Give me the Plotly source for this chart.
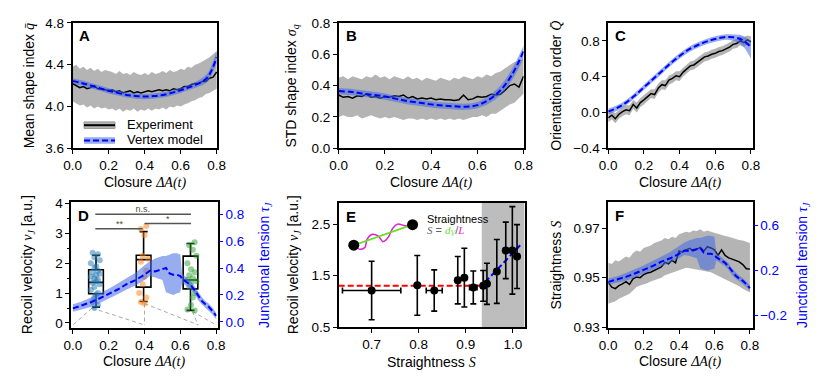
import plotly.graph_objects as go

W, H = 831, 385

# ---------------- data ----------------
closure = [0.00, 0.02, 0.04, 0.06, 0.08, 0.10, 0.12, 0.14, 0.16, 0.18, 0.20, 0.22, 0.24, 0.26,
           0.28, 0.30, 0.32, 0.34, 0.36, 0.38, 0.40, 0.42, 0.44, 0.46, 0.48, 0.50, 0.52, 0.54,
           0.56, 0.58, 0.60, 0.62, 0.64, 0.66, 0.68, 0.70, 0.72, 0.74, 0.76, 0.78, 0.80]
closure_model = [0.00, 0.05, 0.10, 0.15, 0.20, 0.25, 0.30, 0.35, 0.40, 0.45, 0.50, 0.55, 0.60,
                 0.65, 0.70, 0.75, 0.80]

# A: mean shape index
q_exp = [4.22, 4.20, 4.18, 4.19, 4.17, 4.18, 4.20, 4.17, 4.17, 4.16, 4.15, 4.16, 4.14, 4.15,
         4.13, 4.14, 4.15, 4.13, 4.14, 4.13, 4.14, 4.15, 4.14, 4.15, 4.16, 4.15, 4.16, 4.15,
         4.17, 4.16, 4.17, 4.19, 4.19, 4.21, 4.22, 4.22, 4.24, 4.24, 4.27, 4.28, 4.33]
q_exp_hi = [4.38, 4.40, 4.36, 4.38, 4.35, 4.37, 4.34, 4.36, 4.33, 4.35, 4.34, 4.33, 4.31, 4.34,
            4.31, 4.32, 4.30, 4.33, 4.31, 4.30, 4.32, 4.30, 4.33, 4.31, 4.32, 4.34, 4.32, 4.35,
            4.33, 4.34, 4.36, 4.35, 4.38, 4.37, 4.40, 4.41, 4.43, 4.45, 4.47, 4.50, 4.53]
q_exp_lo = [4.05, 4.03, 4.01, 4.02, 3.99, 4.01, 3.98, 4.00, 3.98, 3.99, 3.97, 3.98, 3.96, 3.98,
            3.95, 3.97, 3.96, 3.98, 3.95, 3.97, 3.96, 3.98, 3.96, 3.98, 3.97, 3.99, 3.97, 4.00,
            3.99, 4.01, 4.00, 4.02, 4.03, 4.05, 4.06, 4.08, 4.09, 4.12, 4.13, 4.15, 4.17]
q_mod = [4.245, 4.225, 4.20, 4.175, 4.15, 4.13, 4.11, 4.10, 4.095, 4.10, 4.11, 4.13, 4.155,
         4.185, 4.22, 4.28, 4.47]
q_mod_lo = [4.22, 4.20, 4.175, 4.15, 4.125, 4.105, 4.085, 4.075, 4.07, 4.075, 4.085, 4.105,
            4.13, 4.16, 4.19, 4.24, 4.41]
q_mod_hi = [4.27, 4.25, 4.225, 4.20, 4.175, 4.155, 4.135, 4.125, 4.12, 4.125, 4.135, 4.155,
            4.18, 4.21, 4.25, 4.32, 4.53]

# B: STD shape index
s_exp = [0.34, 0.325, 0.33, 0.32, 0.335, 0.33, 0.345, 0.325, 0.33, 0.32, 0.33, 0.325, 0.335,
         0.33, 0.34, 0.32, 0.33, 0.315, 0.32, 0.315, 0.32, 0.31, 0.315, 0.31, 0.31, 0.305, 0.31,
         0.34, 0.31, 0.315, 0.33, 0.325, 0.33, 0.345, 0.34, 0.345, 0.37, 0.40, 0.41, 0.39, 0.46]
s_exp_hi = [0.45, 0.46, 0.44, 0.46, 0.45, 0.44, 0.46, 0.45, 0.47, 0.45, 0.46, 0.44, 0.46, 0.45,
            0.44, 0.46, 0.44, 0.45, 0.43, 0.45, 0.44, 0.43, 0.45, 0.44, 0.43, 0.45, 0.44, 0.46,
            0.45, 0.44, 0.46, 0.45, 0.47, 0.46, 0.48, 0.49, 0.51, 0.53, 0.55, 0.56, 0.57]
s_exp_lo = [0.20, 0.21, 0.20, 0.20, 0.21, 0.19, 0.20, 0.21, 0.20, 0.19, 0.20, 0.19, 0.20, 0.19,
            0.18, 0.19, 0.19, 0.18, 0.19, 0.18, 0.19, 0.18, 0.19, 0.18, 0.19, 0.18, 0.19, 0.18,
            0.19, 0.20, 0.20, 0.21, 0.20, 0.22, 0.22, 0.24, 0.26, 0.28, 0.29, 0.32, 0.35]
s_mod = [0.365, 0.36, 0.35, 0.34, 0.33, 0.315, 0.30, 0.29, 0.28, 0.272, 0.268, 0.265, 0.275,
         0.31, 0.37, 0.47, 0.62]
s_mod_lo = [0.345, 0.34, 0.33, 0.32, 0.31, 0.295, 0.28, 0.27, 0.26, 0.252, 0.248, 0.245, 0.255,
            0.285, 0.34, 0.435, 0.575]
s_mod_hi = [0.385, 0.38, 0.37, 0.36, 0.35, 0.335, 0.32, 0.31, 0.30, 0.292, 0.288, 0.285, 0.295,
            0.335, 0.40, 0.505, 0.655]

# C: orientational order
o_exp = [-0.06, -0.03, -0.07, -0.02, 0.01, 0.03, 0.02, 0.09, 0.05, 0.11, 0.14, 0.18, 0.21, 0.20,
         0.27, 0.31, 0.30, 0.36, 0.38, 0.41, 0.40, 0.45, 0.48, 0.52, 0.53, 0.56, 0.59, 0.62,
         0.63, 0.65, 0.66, 0.68, 0.69, 0.71, 0.73, 0.76, 0.77, 0.80, 0.78, 0.81, 0.79]
o_exp_hi = [-0.01, 0.02, -0.01, 0.03, 0.06, 0.08, 0.08, 0.14, 0.11, 0.16, 0.19, 0.23, 0.26,
            0.26, 0.32, 0.36, 0.36, 0.41, 0.43, 0.46, 0.46, 0.50, 0.53, 0.57, 0.58, 0.61, 0.64,
            0.67, 0.68, 0.70, 0.71, 0.73, 0.74, 0.76, 0.78, 0.81, 0.82, 0.85, 0.84, 0.86, 0.85]
o_exp_lo = [-0.11, -0.08, -0.12, -0.07, -0.04, -0.02, -0.03, 0.04, 0.00, 0.06, 0.09, 0.13, 0.16,
            0.15, 0.22, 0.26, 0.25, 0.31, 0.33, 0.36, 0.35, 0.40, 0.43, 0.47, 0.48, 0.51, 0.54,
            0.57, 0.58, 0.60, 0.61, 0.63, 0.64, 0.66, 0.68, 0.71, 0.72, 0.75, 0.73, 0.76, 0.74]
o_mod = [0.01, 0.05, 0.11, 0.19, 0.28, 0.37, 0.46, 0.55, 0.63, 0.70, 0.75, 0.79, 0.82, 0.84,
         0.84, 0.81, 0.73]
o_mod_lo = [-0.02, 0.02, 0.08, 0.16, 0.25, 0.34, 0.43, 0.52, 0.60, 0.67, 0.72, 0.76, 0.79, 0.81,
            0.80, 0.75, 0.60]
o_mod_hi = [0.04, 0.08, 0.14, 0.22, 0.31, 0.40, 0.49, 0.58, 0.66, 0.73, 0.78, 0.82, 0.85, 0.87,
            0.87, 0.86, 0.80]

# junctional tension (model), shared by D and F
tension_x = [0.00, 0.05, 0.10, 0.15, 0.20, 0.25, 0.30, 0.35, 0.40, 0.43, 0.46, 0.50, 0.52, 0.54,
             0.56, 0.58, 0.60, 0.61, 0.64, 0.66, 0.68, 0.70, 0.72, 0.74, 0.76, 0.78, 0.80]
tension = [0.10, 0.12, 0.145, 0.175, 0.205, 0.24, 0.28, 0.31, 0.35, 0.38, 0.375, 0.39, 0.40,
           0.36, 0.35, 0.35, 0.34, 0.32, 0.29, 0.27, 0.235, 0.19, 0.155, 0.13, 0.11, 0.08, 0.045]
tension_hi = [0.13, 0.15, 0.18, 0.21, 0.245, 0.285, 0.325, 0.365, 0.42, 0.45, 0.47, 0.49, 0.49,
              0.50, 0.51, 0.51, 0.50, 0.36, 0.32, 0.30, 0.265, 0.22, 0.185, 0.155, 0.135, 0.105,
              0.07]
tension_lo = [0.075, 0.09, 0.11, 0.14, 0.17, 0.205, 0.24, 0.27, 0.31, 0.34, 0.33, 0.31, 0.22,
              0.21, 0.20, 0.21, 0.22, 0.29, 0.26, 0.24, 0.205, 0.16, 0.13, 0.105, 0.085, 0.055,
              0.02]

# D: recoil velocity boxes
box_pos = [0.129, 0.395, 0.657]
box_low = [0.53, 0.72, 0.42]
box_q1 = [0.98, 1.20, 1.14]
box_med = [1.36, 2.12, 1.44]
box_q3 = [1.78, 2.27, 2.24]
box_high = [2.27, 3.06, 2.66]
pts1_x = [0.11, 0.14, 0.12, 0.15, 0.10, 0.13, 0.12, 0.14, 0.11, 0.15, 0.13, 0.10, 0.12, 0.14,
          0.13, 0.11, 0.15, 0.12, 0.10, 0.14, 0.13, 0.12, 0.11, 0.14, 0.12]
pts1_y = [2.35, 2.30, 2.20, 2.10, 2.00, 1.90, 1.85, 1.75, 1.70, 1.65, 1.60, 1.55, 1.50, 1.45,
          1.40, 1.35, 1.30, 1.20, 1.10, 1.00, 0.95, 0.85, 0.70, 0.60, 0.50]
pts2_x = [0.41, 0.38, 0.40, 0.39, 0.42, 0.38, 0.41, 0.40, 0.39, 0.37, 0.41, 0.38, 0.40]
pts2_y = [3.25, 3.15, 2.95, 2.25, 2.15, 2.05, 1.75, 1.55, 1.30, 1.00, 0.85, 0.70, 0.65]
pts3_x = [0.68, 0.65, 0.67, 0.69, 0.64, 0.66, 0.68, 0.65, 0.67, 0.64, 0.69, 0.66, 0.65, 0.68,
          0.67, 0.66, 0.64, 0.68]
pts3_y = [2.70, 2.60, 2.45, 2.25, 2.00, 1.80, 1.70, 1.60, 1.50, 1.45, 1.40, 1.35, 1.20, 1.00,
          0.85, 0.60, 0.45, 0.42]
guide_x = [0.107, 0.0, None, 0.107, 0.40, None, 0.40, 0.40, None, 0.40, 0.70, None,
           0.667, 0.70, None, 0.667, 0.80]
guide_y = [0.50, -0.07, None, 0.50, -0.07, None, 0.65, -0.07, None, 0.65, -0.07, None,
           0.39, -0.07, None, 0.39, -0.07]
sig_x = [[0.125, 0.66], [0.125, 0.39], [0.40, 0.66]]
sig_y = [3.64, 3.16, 3.33]
sig_text = ["n.s.", "**", "*"]
sig_text_x = [0.39, 0.26, 0.53]
sig_text_y = [3.80, 3.30, 3.47]

# E: recoil velocity vs straightness
e_x = [0.700, 0.797, 0.833, 0.883, 0.897, 0.916, 0.937, 0.945, 0.966, 0.985, 0.999, 1.009]
e_y = [1.21, 1.31, 1.21, 1.41, 1.46, 1.27, 1.30, 1.34, 1.58, 1.99, 1.99, 1.87]
e_yerr = [0.57, 0.58, 0.40, 0.46, 0.57, 0.32, 0.30, 0.40, 0.62, 0.55, 0.85, 0.62]
e_xerr = [0.062, 0.0, 0.017, 0.004, 0.004, 0.008, 0.004, 0.004, 0.003, 0.003, 0.003, 0.003]
e_gray_start = 0.934
e_flat_x = [0.63, 0.934]
e_flat_y = [1.30, 1.30]
e_rise_x = [0.941, 1.02]
e_rise_y = [1.37, 2.13]
inset_ends_x = [0.662, 0.787]
inset_ends_y = [2.09, 2.49]
inset_wave_x = [0.662, 0.676, 0.686, 0.690, 0.700, 0.714, 0.724, 0.735, 0.745, 0.755, 0.772, 0.787]
inset_wave_y = [2.09, 2.01, 2.05, 2.20, 2.30, 2.27, 2.16, 2.24, 2.42, 2.50, 2.47, 2.49]

# F: straightness
st_exp = [0.9481, 0.9462, 0.9456, 0.9468, 0.9475, 0.9484, 0.9473, 0.9495, 0.9503, 0.9500, 0.9512,
          0.9519, 0.9522, 0.9530, 0.9538, 0.9543, 0.9562, 0.9556, 0.9570, 0.9560, 0.9608, 0.9603,
          0.9612, 0.9618, 0.9608, 0.9614, 0.9622, 0.9608, 0.9625, 0.9620, 0.9612, 0.9590, 0.9612,
          0.9590, 0.9580, 0.9575, 0.9568, 0.9564, 0.9553, 0.9536, 0.9535]
st_exp_hi = [0.9560, 0.9555, 0.9570, 0.9565, 0.9575, 0.9585, 0.9580, 0.9600, 0.9610, 0.9605,
             0.9620, 0.9625, 0.9630, 0.9640, 0.9645, 0.9650, 0.9660, 0.9655, 0.9665, 0.9660,
             0.9675, 0.9680, 0.9685, 0.9682, 0.9690, 0.9688, 0.9695, 0.9685, 0.9690, 0.9685,
             0.9680, 0.9675, 0.9672, 0.9668, 0.9665, 0.9660, 0.9655, 0.9652, 0.9650, 0.9645,
             0.9640]
st_exp_lo = [0.9395, 0.9400, 0.9405, 0.9415, 0.9420, 0.9428, 0.9435, 0.9450, 0.9462, 0.9468,
             0.9472, 0.9478, 0.9485, 0.9490, 0.9495, 0.9500, 0.9510, 0.9515, 0.9520, 0.9525,
             0.9530, 0.9535, 0.9540, 0.9538, 0.9535, 0.9532, 0.9530, 0.9528, 0.9525, 0.9522,
             0.9515, 0.9508, 0.9500, 0.9495, 0.9488, 0.9480, 0.9472, 0.9465, 0.9455, 0.9448,
             0.9440]

# ---------------- styling ----------------
GRAY = "#b4b4b4"
BAND = "rgba(65,105,225,0.55)"
BLUE = "#0000ff"
DASH = "6px,3px"
SERIF = "font-family:Liberation Serif"


def mi(s):
    # italic serif math text
    return f'<span style="{SERIF}"><i>{s}</i></span>'


fig = go.Figure()


def band(x, lo, hi, color, xa, ya, shape="linear"):
    fig.add_trace(go.Scatter(x=x, y=lo, mode="lines", line=dict(width=0, shape=shape),
                             xaxis=xa, yaxis=ya, hoverinfo="skip"))
    fig.add_trace(go.Scatter(x=x, y=hi, mode="lines", line=dict(width=0, shape=shape),
                             fill="tonexty", fillcolor=color, xaxis=xa, yaxis=ya, hoverinfo="skip"))


def exp_line(x, y, xa, ya):
    fig.add_trace(go.Scatter(x=x, y=y, mode="lines", line=dict(color="black", width=1.5),
                             xaxis=xa, yaxis=ya))


def model_line(x, y, xa, ya, shape="spline"):
    fig.add_trace(go.Scatter(x=x, y=y, mode="lines",
                             line=dict(color=BLUE, width=2, dash=DASH, shape=shape),
                             xaxis=xa, yaxis=ya))


# A
band(closure, q_exp_lo, q_exp_hi, GRAY, "x", "y")
exp_line(closure, q_exp, "x", "y")
band(closure_model, q_mod_lo, q_mod_hi, BAND, "x", "y", "spline")
model_line(closure_model, q_mod, "x", "y")

# B
band(closure, s_exp_lo, s_exp_hi, GRAY, "x2", "y2")
exp_line(closure, s_exp, "x2", "y2")
band(closure_model, s_mod_lo, s_mod_hi, BAND, "x2", "y2", "spline")
model_line(closure_model, s_mod, "x2", "y2")

# C
band(closure, o_exp_lo, o_exp_hi, GRAY, "x3", "y3")
exp_line(closure, o_exp, "x3", "y3")
band(closure_model, o_mod_lo, o_mod_hi, BAND, "x3", "y3", "spline")
model_line(closure_model, o_mod, "x3", "y3")

# D
fig.add_trace(go.Scatter(x=guide_x, y=guide_y, mode="lines",
                         line=dict(color="#aaaaaa", width=1, dash="4px,3px"),
                         xaxis="x4", yaxis="y4"))
for px, py, col in [(pts1_x, pts1_y, "rgba(31,119,180,0.5)"),
                    (pts2_x, pts2_y, "rgba(255,127,14,0.5)"),
                    (pts3_x, pts3_y, "rgba(44,160,44,0.5)")]:
    fig.add_trace(go.Scatter(x=px, y=py, mode="markers", marker=dict(size=6, color=col),
                             xaxis="x4", yaxis="y4"))
for i in range(3):
    fig.add_trace(go.Box(x=[box_pos[i]], q1=[box_q1[i]], median=[box_med[i]], q3=[box_q3[i]],
                         lowerfence=[box_low[i]], upperfence=[box_high[i]], width=0.082,
                         whiskerwidth=0.55, fillcolor="rgba(0,0,0,0)", boxpoints=False,
                         line=dict(color="black", width=1.6), xaxis="x4", yaxis="y4"))
for sx, sy in zip(sig_x, sig_y):
    fig.add_trace(go.Scatter(x=sx, y=[sy, sy], mode="lines", line=dict(color="#555555", width=1.5),
                             xaxis="x4", yaxis="y4"))
fig.add_trace(go.Scatter(x=sig_text_x, y=sig_text_y, mode="text", text=sig_text,
                         textfont=dict(size=9, color="#4d4d33"), xaxis="x4", yaxis="y4"))
band(tension_x, tension_lo, tension_hi, BAND, "x4", "y7")
model_line(tension_x, tension, "x4", "y7", "linear")

# E
fig.add_shape(type="rect", xref="x5", yref="y5 domain", x0=e_gray_start, x1=1.025, y0=0, y1=1,
              fillcolor="#bdbdbd", line=dict(width=0), layer="below")
fig.add_trace(go.Scatter(x=e_flat_x, y=e_flat_y, mode="lines",
                         line=dict(color="#ff0000", width=2, dash=DASH), xaxis="x5", yaxis="y5"))
fig.add_trace(go.Scatter(x=e_rise_x, y=e_rise_y, mode="lines",
                         line=dict(color=BLUE, width=2, dash=DASH), xaxis="x5", yaxis="y5"))
fig.add_trace(go.Scatter(x=e_x, y=e_y, mode="markers", marker=dict(size=8, color="black"),
                         error_y=dict(type="data", array=e_yerr, color="black", thickness=1.6, width=3),
                         error_x=dict(type="data", array=e_xerr, color="black", thickness=1.6, width=3),
                         xaxis="x5", yaxis="y5"))
fig.add_trace(go.Scatter(x=inset_wave_x, y=inset_wave_y, mode="lines",
                         line=dict(color="#e020d0", width=1.5, shape="spline"),
                         xaxis="x5", yaxis="y5"))
fig.add_trace(go.Scatter(x=inset_ends_x, y=inset_ends_y, mode="lines+markers",
                         line=dict(color="#66e020", width=1.8),
                         marker=dict(size=11, color="black"), xaxis="x5", yaxis="y5"))

# F
band(closure, st_exp_lo, st_exp_hi, GRAY, "x6", "y6")
exp_line(closure, st_exp, "x6", "y6")
band(tension_x, tension_lo, tension_hi, BAND, "x6", "y8")
model_line(tension_x, tension, "x6", "y8", "linear")

# ---------------- axes ----------------
def xd(x0, x1):
    return [x0 / W, x1 / W]


def yd(top, bottom):
    return [1 - bottom / H, 1 - top / H]


frame = dict(showline=True, linecolor="black", linewidth=1.5, mirror=True, ticks="outside",
             ticklen=4, tickwidth=1.2, tickcolor="black", showgrid=False, zeroline=False)
closure_ticks = dict(tickvals=[0, 0.2, 0.4, 0.6, 0.8], tickformat=".1f")

fig.update_layout(
    xaxis=dict(frame, domain=xd(65, 213), range=[0, 0.804], anchor="y", **closure_ticks),
    yaxis=dict(frame, domain=yd(16.5, 147), range=[3.6, 4.8], anchor="x",
               tickvals=[3.6, 4.0, 4.4, 4.8], tickformat=".1f"),
    xaxis2=dict(frame, domain=xd(337, 526), range=[0, 0.8], anchor="y2", **closure_ticks),
    yaxis2=dict(frame, domain=yd(16.5, 147), range=[0, 0.8], anchor="x2",
                tickvals=[0, 0.2, 0.4, 0.6, 0.8], tickformat=".1f"),
    xaxis3=dict(frame, domain=xd(612.5, 760), range=[0, 0.809], anchor="y3", **closure_ticks),
    yaxis3=dict(frame, domain=yd(16.5, 147), range=[-0.4, 1.0], anchor="x3",
                tickvals=[-0.4, 0, 0.4, 0.8], tickformat=".1f"),
    xaxis4=dict(frame, domain=xd(63.5, 213.5), range=[-0.01, 0.81], anchor="y4", **closure_ticks),
    yaxis4=dict(frame, domain=yd(203, 334), range=[-0.17, 4.05], anchor="x4",
                tickvals=[0, 1, 2, 3, 4], tickformat=".0f",
                minor=dict(dtick=0.5, ticks="outside", ticklen=2.5, tickcolor="black")),
    yaxis7=dict(overlaying="y4", side="right", anchor="x4", range=[-0.046, 0.89],
                tickvals=[0, 0.2, 0.4, 0.6, 0.8], tickformat=".1f", ticks="outside",
                ticklen=4, tickwidth=1.2, tickcolor=BLUE, tickfont=dict(color=BLUE),
                showline=False, showgrid=False, zeroline=False),
    xaxis5=dict(frame, domain=xd(337, 527), range=[0.63, 1.025], anchor="y5",
                tickvals=[0.7, 0.8, 0.9, 1.0], tickformat=".1f"),
    yaxis5=dict(frame, domain=yd(204, 333), range=[0.5, 2.91], anchor="x5",
                tickvals=[0.5, 1.5, 2.5], tickformat=".1f"),
    xaxis6=dict(frame, domain=xd(612.5, 760), range=[0, 0.815], anchor="y6", **closure_ticks),
    yaxis6=dict(frame, domain=yd(203, 334), range=[0.9297, 0.9805], anchor="x6",
                tickvals=[0.93, 0.95, 0.97], tickformat=".2f"),
    yaxis8=dict(overlaying="y6", side="right", anchor="x6", range=[-0.31, 0.81],
                tickvals=[-0.2, 0.2, 0.6], tickformat=".1f", ticks="outside",
                ticklen=4, tickwidth=1.2, tickcolor=BLUE, tickfont=dict(color=BLUE),
                showline=False, showgrid=False, zeroline=False),
)

# ---------------- titles / labels ----------------
closure_title = "Closure " + mi("ΔA(t)")
vj = "Recoil velocity " + mi("v") + "<sub>" + mi("J") + "</sub> [a.u.]"
tj = "Junctional tension " + mi("τ") + "<sub>" + mi("J") + "</sub>"
titles = [
    # text, x px, y px, angle, color
    ("Mean shape index " + mi("q\u0304"), 20, 82, -90, "black"),
    ("STD shape index " + mi("σ") + "<sub>" + mi("q") + "</sub>", 289, 82, -90, "black"),
    ("Orientational order " + mi("Q\u0304"), 559, 82, -90, "black"),
    (vj, 19, 268, -90, "black"),
    (tj, 261, 268, -90, BLUE),
    (vj, 291, 268, -90, "black"),
    ("Straightness " + mi("S"), 559, 268, -90, "black"),
    (tj, 811, 268, -90, BLUE),
    (closure_title, 139, 182.5, 0, "black"),
    (closure_title, 431, 182.5, 0, "black"),
    (closure_title, 686, 182.5, 0, "black"),
    (closure_title, 138, 369, 0, "black"),
    ("Straightness " + mi("S"), 432, 369, 0, "black"),
    (closure_title, 686, 369, 0, "black"),
]
for txt, px, py, ang, col in titles:
    fig.add_annotation(text=txt, x=px / W, y=1 - py / H, xref="paper", yref="paper",
                       showarrow=False, textangle=ang, xanchor="center", yanchor="middle",
                       font=dict(size=14, color=col))

for letter, ax in zip("ABCDEF", ["", "2", "3", "4", "5", "6"]):
    fig.add_annotation(text=f"<b>{letter}</b>", x=0.03, y=0.98, xref=f"x{ax} domain",
                       yref=f"y{ax} domain", xanchor="left", yanchor="top", showarrow=False,
                       font=dict(size=15, color="black"))

# legend of A drawn by hand
fig.add_shape(type="rect", xref="x domain", yref="y domain", x0=0.079, x1=0.293, y0=0.158,
              y1=0.21, fillcolor=GRAY, line=dict(color="#999999", width=1))
fig.add_shape(type="line", xref="x domain", yref="y domain", x0=0.079, x1=0.293, y0=0.184,
              y1=0.184, line=dict(color="black", width=2))
fig.add_shape(type="rect", xref="x domain", yref="y domain", x0=0.079, x1=0.293, y0=0.036,
              y1=0.088, fillcolor=BAND, line=dict(width=0))
fig.add_shape(type="line", xref="x domain", yref="y domain", x0=0.079, x1=0.293, y0=0.062,
              y1=0.062, line=dict(color=BLUE, width=2, dash=DASH))
fig.add_annotation(text="Experiment", x=0.36, y=0.19, xref="x domain", yref="y domain",
                   xanchor="left", yanchor="middle", showarrow=False, font=dict(size=13))
fig.add_annotation(text="Vertex model", x=0.36, y=0.07, xref="x domain", yref="y domain",
                   xanchor="left", yanchor="middle", showarrow=False, font=dict(size=13))

# inset text in E
fig.add_annotation(text="Straightness", x=0.814, y=2.60, xref="x5", yref="y5",
                   xanchor="left", yanchor="middle", showarrow=False, font=dict(size=11))
fig.add_annotation(
    text=('<span style="color:#666666">' + mi("S") + " = </span>"
          + '<span style="color:#66dd33">' + mi("d") + "<sub>" + mi("V") + "</sub></span>"
          + '<span style="color:#666666">/</span>'
          + '<span style="color:#ee22cc">' + mi("L") + "</span>"),
    x=0.814, y=2.36, xref="x5", yref="y5", xanchor="left", yanchor="middle",
    showarrow=False, font=dict(size=11))

fig.update_layout(
    width=W, height=H, margin=dict(l=0, r=0, t=0, b=0),
    paper_bgcolor="white", plot_bgcolor="white", showlegend=False,
    font=dict(family="Liberation Sans, Arial, sans-serif", size=13.5, color="black"),
)

# the page body has a default margin; remove it so the figure fills the window
fig.write_html("out.html", config={"displayModeBar": False},
               post_script="document.body.style.margin='0px';")
